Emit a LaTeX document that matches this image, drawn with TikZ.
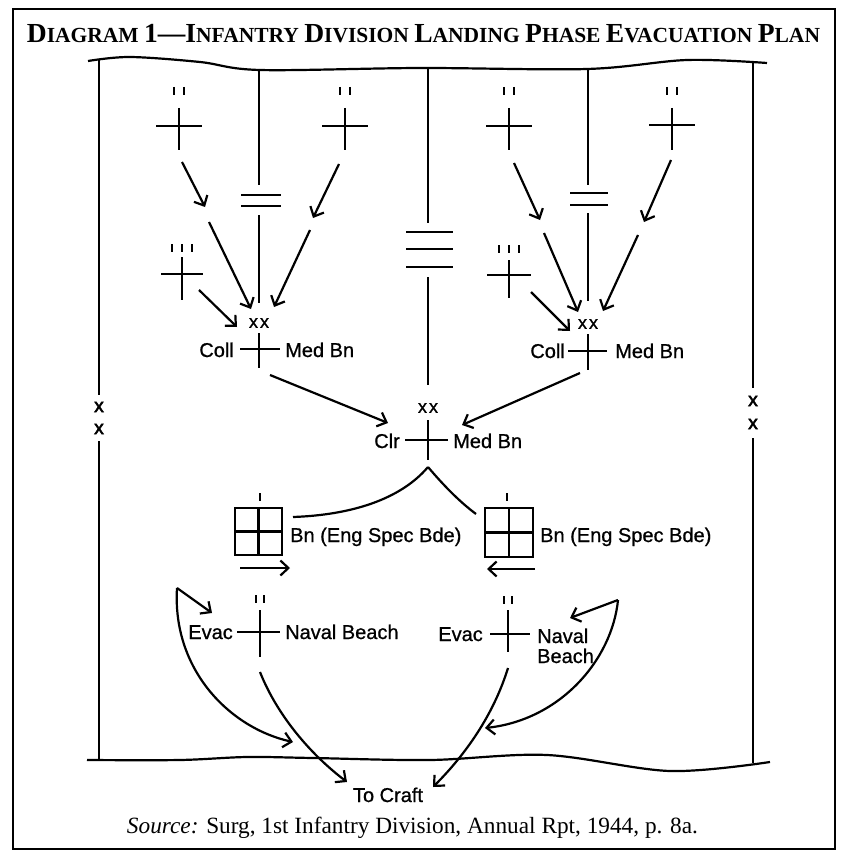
\documentclass[tikz,border=0pt]{standalone}
\usepackage{fontspec}
\usepackage{graphicx}
\setmainfont{Liberation Serif}
\setsansfont{Liberation Sans}
\usetikzlibrary{arrows.meta}
\newcommand{\capword}[2]{{\fontsize{25}{25}\selectfont #1}{\fontsize{19.5}{25}\selectfont #2}}
\begin{document}
\begin{tikzpicture}[x=1pt,y=-1pt,
  ln/.style={line width=2.2pt},
  frame/.style={line width=2.5pt},
  tk/.style={line width=2.8pt},
  arr/.style={line width=2.2pt,-{Straight Barb[length=8pt,width=15pt]}},
  lbl/.style={font=\sffamily\addfontfeatures{FakeBold=0.8}\fontsize{20}{22}\selectfont,inner sep=0pt},
  xxs/.style={font=\sffamily\addfontfeatures{FakeBold=1}\fontsize{18}{18}\selectfont,inner sep=0pt},
  xxb/.style={font=\sffamily\addfontfeatures{FakeBold=3}\fontsize{19}{18}\selectfont,inner sep=0pt},
  ttl/.style={font=\bfseries\fontsize{19.5}{25}\selectfont,inner sep=0pt,anchor=base},
  src/.style={font=\fontsize{19}{22}\selectfont,inner sep=0pt,anchor=base}
]
\useasboundingbox (0,0) rectangle (840,853);
\draw[frame] (13,9) rectangle (835,849);

% title
\node[ttl] (title) at (423.5,43) {\resizebox{793pt}{!}{\capword{D}{IAGRAM} {\fontsize{25}{25}\selectfont 1---}\capword{I}{NFANTRY} \capword{D}{IVISION} \capword{L}{ANDING} \capword{P}{HASE} \capword{E}{VACUATION} \capword{P}{LAN}}};

% wavy shore lines
\draw[ln] plot[smooth,tension=0.55] coordinates {(88,61) (130,57) (200,62) (260,70) (420,68) (587,69) (687,60) (767,63)};
\draw[ln] plot[smooth,tension=0.55] coordinates {(87,760) (180,760) (247,757) (313,758) (430,760) (547,755) (670,771) (770,762)};

% outer division boundaries
\draw[ln] (99,60) -- (99,395) (99,441) -- (99,760);
\node[xxb] (xl1) at (99,407) {x};
\node[xxb] (xl2) at (99,429) {x};
\draw[ln] (753,63) -- (753,388) (753,438) -- (753,763);
\node[xxb] (xr1) at (753,401) {x};
\node[xxb] (xr2) at (753,424) {x};

% left regimental boundary
\draw[ln] (259,69) -- (259,185) (241,195) -- (281,195) (241,206) -- (281,206) (259,215) -- (259,303);
\node[xxs] (xxL) at (259,323) {x\hspace{2pt}x};
\draw[ln] (259,333) -- (259,368) (240,349) -- (280,349);
\node[lbl,anchor=base east] (collL) at (234,357) {Coll};
\node[lbl,anchor=base west] (medL) at (285,357) {Med Bn};

% right regimental boundary
\draw[ln] (588,69) -- (588,185) (570,193) -- (608,193) (570,205) -- (608,205) (588,213) -- (588,301);
\node[xxs] (xxR) at (588,324) {x\hspace{2pt}x};
\draw[ln] (588,334) -- (588,370) (568,351) -- (607,351);
\node[lbl,anchor=base east] (collR) at (565,358) {Coll};
\node[lbl,anchor=base west] (medR) at (615,358) {Med Bn};

% center boundary
\draw[ln] (428,68) -- (428,223) (406,232) -- (453,232) (406,249) -- (453,249) (406,267) -- (453,267) (428,277) -- (428,385);
\node[xxs] (xxC) at (428,408) {x\hspace{2pt}x};
\draw[ln] (428,420) -- (428,460) (405,440) -- (448,440);
\node[lbl,anchor=base east] (clr) at (400,448) {Clr};
\node[lbl,anchor=base west] (medC) at (453,448) {Med Bn};

% battalion symbols (top)
\foreach \bx/\by in {179/126,345/126,509/126,672/125}{
  \draw[ln] (\bx,108) -- (\bx,150) (\bx-23,\by) -- (\bx+23,\by);
  \draw[tk] (\bx-5,87) -- (\bx-5,95) (\bx+5,87) -- (\bx+5,95);
}
% regiment symbols
\draw[ln] (182,257) -- (182,300) (161,274) -- (203,274);
\draw[tk] (172,244) -- (172,252) (182,244) -- (182,252) (192,244) -- (192,252);
\draw[ln] (509,260) -- (509,298) (487,275) -- (531,275);
\draw[tk] (499,245) -- (499,253) (509,245) -- (509,253) (519,245) -- (519,253);

% arrows, left group
\coordinate (l1s) at (182,162); \coordinate (l1e) at (205,207);
\coordinate (l2s) at (209,222); \coordinate (l2e) at (251,309);
\coordinate (l3s) at (339,164); \coordinate (l3e) at (313,218);
\coordinate (l4s) at (310,230); \coordinate (l4e) at (274,307);
\coordinate (l5s) at (199,290); \coordinate (l5e) at (237,327);
\draw[arr] (l1s) -- (l1e);
\draw[arr] (l2s) -- (l2e);
\draw[arr] (l3s) -- (l3e);
\draw[arr] (l4s) -- (l4e);
\draw[arr] (l5s) -- (l5e);
% arrows, right group
\coordinate (r1s) at (514,163); \coordinate (r1e) at (540,220);
\coordinate (r2s) at (544,233); \coordinate (r2e) at (578,312);
\coordinate (r3s) at (671,160); \coordinate (r3e) at (644,222);
\coordinate (r4s) at (638,235); \coordinate (r4e) at (603,311);
\coordinate (r5s) at (531,292); \coordinate (r5e) at (570,331);
\draw[arr] (r1s) -- (r1e);
\draw[arr] (r2s) -- (r2e);
\draw[arr] (r3s) -- (r3e);
\draw[arr] (r4s) -- (r4e);
\draw[arr] (r5s) -- (r5e);

% to clearing
\coordinate (cl1s) at (270,375); \coordinate (cl1e) at (388,423);
\coordinate (cl2s) at (580,373); \coordinate (cl2e) at (462,425);
\draw[arr] (cl1s) -- (cl1e);
\draw[arr] (cl2s) -- (cl2e);

% clearing to engineer battalions
\coordinate (clrB) at (428,467);
\coordinate (engLt) at (293,517);
\coordinate (engRt) at (476,514);
\draw[ln] (clrB) .. controls (400,500) and (350,515) .. (engLt);
\draw[ln] (clrB) .. controls (445,487) and (460,502) .. (engRt);

% engineer battalion boxes
\draw[ln] (235,508) rectangle (282,555);
\draw[ln] (258.5,508) -- (258.5,555) (235,531.5) -- (282,531.5);
\draw[tk] (260,493) -- (260,501);
\node[lbl,anchor=base west] (engL) at (290,542) {Bn (Eng Spec Bde)};
\draw[ln] (485,508) rectangle (533,557);
\draw[ln] (509,508) -- (509,557) (485,532.5) -- (533,532.5);
\draw[tk] (507,493) -- (507,501);
\node[lbl,anchor=base west] (engR) at (540,542) {Bn (Eng Spec Bde)};
\coordinate (ea1) at (240,568); \coordinate (ea2) at (290,568);
\coordinate (eb1) at (535,569); \coordinate (eb2) at (487,569);
\draw[arr] (ea1) -- (ea2);
\draw[arr] (eb1) -- (eb2);

% evacuation battalions
\draw[tk] (256,595) -- (256,603) (264,595) -- (264,603);
\draw[ln] (260,610) -- (260,657) (237,632) -- (280,632);
\node[lbl,anchor=base east] (evacL) at (233,639) {Evac};
\node[lbl,anchor=base west] (navL) at (285,639) {Naval Beach};
\draw[tk] (504,596) -- (504,604) (512,596) -- (512,604);
\draw[ln] (508,610) -- (508,652) (490,634) -- (530,634);
\node[lbl,anchor=base east] (evacR) at (483,641) {Evac};
\node[lbl,anchor=base west] (navR1) at (537,643) {Naval};
\node[lbl,anchor=base west] (navR2) at (537,663) {Beach};

% evacuation routes
\coordinate (lTop) at (177,588);
\coordinate (lEv) at (212,613);
\coordinate (lMid) at (293,742);
\coordinate (lEvB) at (260,672);
\draw[arr] (lTop) -- (lEv);
\draw[arr] (lTop) .. controls (172,670) and (230,728) .. (lMid);
\coordinate (rTop) at (618,600);
\coordinate (rEv) at (570,618);
\coordinate (rMid) at (485,728);
\coordinate (rEvB) at (508,668);
\draw[arr] (rTop) -- (rEv);
\draw[arr] (rTop) .. controls (612,660) and (560,720) .. (rMid);

\node[lbl,anchor=base] (craft) at (388,802) {To Craft};
\coordinate (craftL) at (347,782);
\coordinate (craftR) at (433,787);
\draw[arr] (lEvB) .. controls (275,710) and (305,750) .. (craftL);
\draw[arr] (rEvB) .. controls (495,710) and (470,750) .. (craftR);

% source
\node[src] (source) at (412.5,833) {\resizebox{571pt}{!}{\textit{Source:} Surg, 1st Infantry Division, Annual Rpt, 1944, p. 8a.}};
\end{tikzpicture}
\end{document}
